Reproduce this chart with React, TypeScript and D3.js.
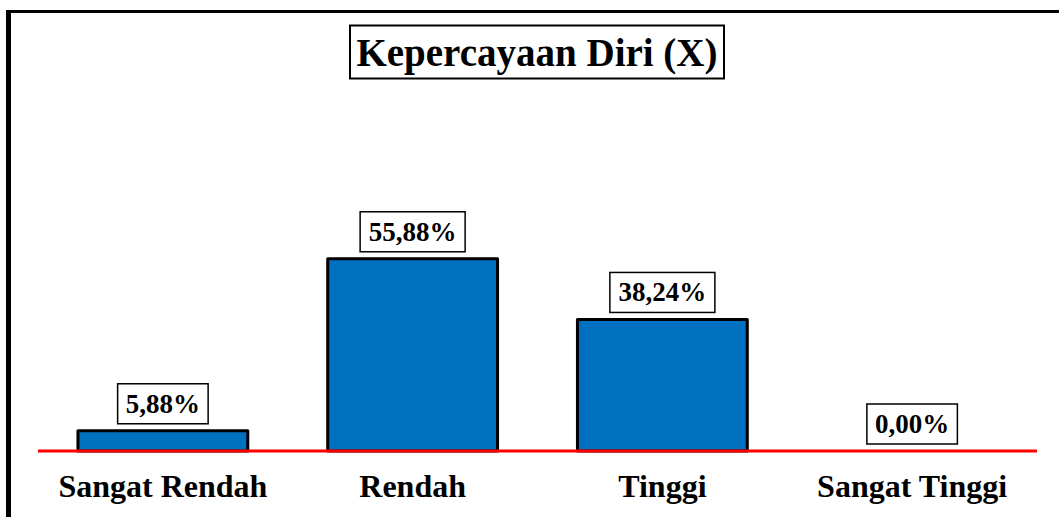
import React from "react";
import * as d3 from "d3";

const categories = ["Sangat Rendah", "Rendah", "Tinggi", "Sangat Tinggi"];
const values = [5.88, 55.88, 38.24, 0.0];
const valueLabels = ["5,88%", "55,88%", "38,24%", "0,00%"];
const title = "Kepercayaan Diri (X)";

const W = 1059;
const H = 517;
const FONT = "'Liberation Serif', 'Times New Roman', serif";

export default function App() {
  const x = d3.scaleBand<string>().domain(categories).range([38, 1037]).paddingInner(0.32).paddingOuter(0.16);
  const y = d3.scaleLinear().domain([0, 100]).range([451, 107]);
  const labelW = (s: string) => s.length * 14.5 + 18;

  return (
    <svg width={W} height={H} style={{ position: "absolute", left: 0, top: 0, background: "#fff" }} fontFamily={FONT}>
      {/* outer frame */}
      <line x1={8.5} y1={10} x2={8.5} y2={H} stroke="#000" strokeWidth={5} />
      <line x1={6} y1={11.5} x2={W} y2={11.5} stroke="#000" strokeWidth={3} />
      {/* title */}
      <rect x={350} y={25.5} width={374} height={53} fill="#fff" stroke="#000" strokeWidth={2} />
      <text x={537} y={66} textAnchor="middle" fontSize={39} fontWeight="bold" fill="#000">{title}</text>
      {/* bars */}
      {categories.map((c, i) =>
        values[i] > 0 ? (
          <rect key={c} x={x(c)!} y={y(values[i])} width={x.bandwidth()} height={y(0) - y(values[i])}
            fill="#0070C0" stroke="#000" strokeWidth={3} strokeLinejoin="round" />
        ) : null
      )}
      {/* baseline */}
      <line x1={38} x2={1037} y1={y(0)} y2={y(0)} stroke="#FF0000" strokeWidth={3} />
      {/* value labels */}
      {categories.map((c, i) => {
        const cx = x(c)! + x.bandwidth() / 2;
        const w = labelW(valueLabels[i]);
        const bottom = y(values[i]) - 7;
        return (
          <g key={c}>
            <rect x={cx - w / 2} y={bottom - 40} width={w} height={40} fill="#fff" stroke="#000" strokeWidth={1.5} />
            <text x={cx} y={bottom - 11} textAnchor="middle" fontSize={27} fontWeight="bold" fill="#000">{valueLabels[i]}</text>
          </g>
        );
      })}
      {/* category labels */}
      {categories.map((c) => (
        <text key={c} x={x(c)! + x.bandwidth() / 2} y={497} textAnchor="middle" fontSize={32} fontWeight="bold" fill="#000">{c}</text>
      ))}
    </svg>
  );
}
